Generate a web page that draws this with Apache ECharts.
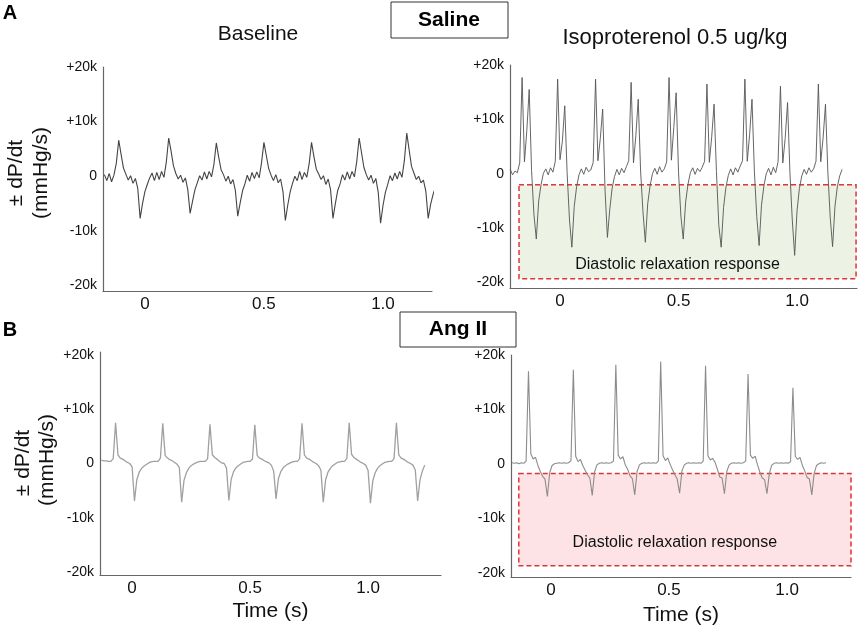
<!DOCTYPE html>
<html>
<head>
<meta charset="utf-8">
<script src="https://cdn.jsdelivr.net/npm/echarts@6.0.0/dist/echarts.min.js"></script>
<style>
  html, body { margin: 0; padding: 0; background: #fff; }
  #chart { width: 858px; height: 630px; }
</style>
</head>
<body>
<div id="chart"></div>
<script>
// ±dP/dt traces, values in k mmHg/s, one sample every 10 ms
const sampleStep = 0.01
const yTicks = [-20, -10, 0, 10, 20]
const timeTicks = [0, 0.5, 1.0]

// A - Saline, baseline
const salineBaselineStart = -0.17
const salineBaseline = [
  0.3, -0.8, 0.5, -1.0, 0.2, 2.4,
  6.6, 4.0, 1.5, 0.4, -0.7, 0.1, -1.3, -0.4, -2.2, -7.7, -5.0, -2.8, -1.5, -0.3, 0.6, -0.8, 0.7, -0.6, 0.9, -0.2, 2.6,
  7.0, 4.6, 1.9, 0.5, -0.5, 0.2, -1.1, -0.3, -2.4, -6.8, -4.6, -2.5, -1.2, 0.1, -0.7, 0.8, -0.5, 0.9, -0.1, 2.2,
  6.1, 3.5, 1.2, 0.3, -0.9, 0.0, -1.4, -0.6, -2.6, -7.3, -4.9, -2.7, -1.4, 0.2, -0.9, 0.7, -0.4, 0.8, -0.3, 2.5,
  6.2, 3.8, 1.4, 0.2, -0.8, 0.3, -1.2, -0.5, -2.8, -8.1, -5.3, -2.9, -1.3, 0.0, -0.8, 0.9, -0.6, 0.7, -0.2, 2.3,
  6.2, 3.6, 1.3, 0.4, -0.6, 0.1, -1.5, -0.5, -2.5, -7.7, -5.0, -2.6, -1.4, 0.3, -0.7, 0.8, -0.5, 0.9, -0.1, 2.7,
  7.0, 4.3, 1.6, 0.3, -0.7, 0.2, -1.3, -0.4, -2.9, -8.6, -5.4, -3.0, -1.5, 0.1, -0.8, 0.6, -0.5, 0.9, -0.2, 2.9,
  7.9, 4.8, 1.8, 0.6, -0.6, 0.0, -1.2, -0.7, -2.7, -7.7, -5.2, -3.4, -2.0, -0.8, 0.6
]

// A - Saline, isoproterenol 0.5 ug/kg
const salineIsoStart = -0.21
const salineIso = [
  0.8, -0.2, 0.5, 0.2, 2.0,
  17.7, 2.2, 8.0, 15.5, 0.6, -7.5, -12.0, -5.0, -2.0, 0.1, 0.9, -0.2, 1.1, 0.3, 2.3,
  17.4, 2.6, 6.0, 12.5, 0.2, -8.5, -13.5, -6.0, -2.4, -0.2, 0.9, -0.1, 1.2, 0.4, 0.7, 2.1,
  17.4, 2.4, 6.5, 11.9, -3.0, -11.7, -6.5, -2.6, -0.5, 0.8, -0.2, 1.0, 0.2, 1.3, 2.4,
  16.8, 2.0, 7.0, 13.7, 0.5, -7.0, -12.6, -5.5, -2.2, 0.0, 1.0, -0.1, 1.3, 0.3, 0.9, 2.2,
  17.7, 2.5, 8.5, 14.9, 0.3, -7.8, -12.0, -5.2, -1.9, 0.2, 1.1, -0.1, 1.0, 0.4, 1.2, 2.3,
  16.5, 2.1, 6.8, 12.8, 0.4, -9.5, -13.5, -6.2, -2.5, -0.3, 0.9, -0.2, 1.1, 0.3, 1.4, 2.4,
  17.4, 2.3, 7.2, 13.7, 0.5, -7.8, -13.2, -5.8, -2.3, 0.0, 1.0, -0.2, 1.2, 0.2, 2.2,
  16.1, 2.0, 6.5, 13.1, 0.2, -8.5, -15.0, -6.8, -2.7, -0.4, 0.8, -0.1, 1.1, 0.3, 0.9, 2.3,
  16.5, 2.2, 6.6, 12.8, 0.3, -8.0, -13.4, -6.0, -2.4, -0.4, 0.8
]

// B - Ang II, baseline
const angBaselineStart = -0.13
const angBaseline = [
  0.6, 0.5, 0.5, 0.4, 0.4, 0.9,
  7.5, 1.6, 1.0, 0.8, 0.5, 0.2, 0.0, -0.6, -6.9, -3.0, -1.6, -0.9, -0.5, -0.2, 0.1, 0.3, 0.4, 0.4, 0.4, 1.0,
  7.4, 1.5, 1.0, 0.7, 0.5, 0.2, -0.1, -0.7, -7.1, -3.1, -1.7, -0.9, -0.4, -0.1, 0.1, 0.3, 0.4, 0.4, 0.4, 0.9,
  7.2, 1.6, 1.1, 0.8, 0.4, 0.1, 0.0, -0.8, -6.8, -2.9, -1.5, -0.8, -0.4, -0.1, 0.2, 0.3, 0.4, 0.4, 0.8,
  7.1, 1.5, 1.0, 0.8, 0.5, 0.3, 0.1, -0.3, -1.4, -6.5, -2.8, -1.5, -0.8, -0.4, -0.1, 0.1, 0.3, 0.4, 0.4, 0.9,
  7.4, 1.6, 1.0, 0.8, 0.5, 0.2, 0.0, -0.4, -1.2, -7.1, -3.0, -1.6, -0.9, -0.4, -0.1, 0.2, 0.3, 0.4, 0.4, 0.9,
  7.5, 1.7, 1.1, 0.8, 0.5, 0.2, 0.0, -0.3, -1.3, -7.3, -3.2, -1.7, -0.9, -0.4, -0.1, 0.2, 0.3, 0.4, 0.4, 0.9,
  7.5, 1.6, 1.0, 0.8, 0.5, 0.2, 0.0, -0.3, -1.2, -6.9, -3.0, -1.4, -0.3
]

// B - Ang II, isoproterenol 0.5 ug/kg
const angIsoStart = -0.165
const angIso = [
  0.2, 0.1, 0.2, 0.0, 0.2, 0.1, 0.5,
  17.0, 1.8, 0.9, 1.2, -0.3, -1.4, -2.3, -2.8, -6.0, -1.6, -0.3, 0.0, 0.1, 0.2, 0.1, 0.2, 0.1, 0.2, 0.6,
  17.3, 1.4, 0.4, 0.8, -0.3, -1.2, -2.0, -2.6, -5.8, -1.5, -0.2, 0.1, 0.2, 0.1, 0.2, 0.1, 0.2, 0.5,
  18.2, 1.6, 0.9, 1.3, -0.2, -1.0, -2.2, -2.7, -5.7, -1.4, -0.2, 0.1, 0.2, 0.1, 0.2, 0.1, 0.2, 0.1, 0.5,
  18.8, 1.5, 0.6, 1.1, -0.1, -1.1, -2.0, -2.8, -5.4, -1.3, -0.2, 0.1, 0.2, 0.1, 0.2, 0.1, 0.2, 0.1, 0.5,
  18.0, 1.5, 0.7, 1.0, 0.3, -1.0, -2.4, -2.6, -5.5, -1.4, -0.2, 0.1, 0.2, 0.1, 0.2, 0.1, 0.2, 0.5,
  16.5, 1.6, 1.0, 1.4, -0.2, -1.5, -2.6, -2.9, -5.5, -1.8, -0.3, 0.1, 0.2, 0.1, 0.2, 0.1, 0.2, 0.1, 0.4,
  14.0, 1.4, 0.8, 1.2, -0.3, -1.3, -2.5, -2.8, -5.7, -1.7, -0.3, 0.0, 0.2, 0.1, 0.2
]

// dashed "Diastolic relaxation response" areas: [t from, t to, top, bottom]
const salineRelaxBox = [-0.173, 1.249, -2.0, -19.3]
const angRelaxBox = [-0.136, 1.271, -1.8, -18.75]
const relaxLabel = 'Diastolic relaxation response'

const font = 'Liberation Sans, Arial, Helvetica, sans-serif'

const toPoints = (start, values) =>
  values.map((v, i) => [+(start + i * sampleStep).toFixed(3), v])

const panels = [
  { grid: { left: 103, top: 67, width: 329, height: 224 }, x: [-0.176, 1.206], y: [-21, 20],
    data: toPoints(salineBaselineStart, salineBaseline), color: '#444', width: 1.1 },
  { grid: { left: 510, top: 65, width: 347, height: 223 }, x: [-0.211, 1.253], y: [-21, 20],
    data: toPoints(salineIsoStart, salineIso), color: '#555', width: 0.9,
    box: salineRelaxBox, boxFill: '#edf3e4', labelDist: 7 },
  { grid: { left: 100, top: 352, width: 341, height: 223 }, x: [-0.136, 1.309], y: [-20.5, 20.5],
    data: toPoints(angBaselineStart, angBaseline), color: '#a0a0a0', width: 1.3, timeName: 26 },
  { grid: { left: 511, top: 355, width: 340, height: 222 }, x: [-0.169, 1.271], y: [-20.8, 20],
    data: toPoints(angIsoStart, angIso), color: '#8c8c8c', width: 1.1,
    box: angRelaxBox, boxFill: '#fde3e5', labelDist: 16, timeName: 28 }
]

const myChart = echarts.init(document.getElementById('chart'), null, { renderer: 'canvas' })

const axisLine = { onZero: false, lineStyle: { color: '#666', width: 1.2 } }

const option = {
  animation: false,
  backgroundColor: '#fff',
  grid: panels.map(p => p.grid),
  xAxis: panels.map((p, i) => ({
    type: 'value',
    gridIndex: i,
    min: p.x[0],
    max: p.x[1],
    axisLine,
    axisTick: { show: false },
    splitLine: { show: false },
    axisLabel: {
      customValues: timeTicks,
      formatter: v => (v === 0 ? '0' : v.toFixed(1)),
      fontSize: 17,
      color: '#111',
      fontFamily: font,
      margin: 5
    },
    name: p.timeName ? 'Time (s)' : '',
    nameLocation: 'middle',
    nameGap: p.timeName || 0,
    nameTextStyle: { fontSize: 21, color: '#111', fontFamily: font }
  })),
  yAxis: panels.map((p, i) => ({
    type: 'value',
    gridIndex: i,
    min: p.y[0],
    max: p.y[1],
    axisLine,
    axisTick: { show: false },
    splitLine: { show: false },
    axisLabel: {
      customValues: yTicks,
      formatter: v => (v > 0 ? '+' + v + 'k' : v < 0 ? v + 'k' : '0'),
      fontSize: 14,
      color: '#111',
      fontFamily: font,
      margin: 6
    }
  })),
  series: panels.map((p, i) => {
    const s = {
      type: 'line',
      xAxisIndex: i,
      yAxisIndex: i,
      data: p.data,
      showSymbol: false,
      clip: false,
      silent: true,
      lineStyle: { color: p.color, width: p.width },
      z: 3
    }
    if (p.box) {
      s.markArea = {
        silent: true,
        itemStyle: {
          color: p.boxFill,
          borderColor: '#e0343b',
          borderWidth: 1.5,
          borderType: [5, 3]
        },
        label: {
          show: true,
          position: 'insideBottom',
          distance: p.labelDist,
          offset: [-10, 0],
          fontSize: 16,
          color: '#111',
          fontFamily: font
        },
        data: [[
          { name: relaxLabel, xAxis: p.box[0], yAxis: p.box[2] },
          { xAxis: p.box[1], yAxis: p.box[3] }
        ]]
      }
    }
    return s
  }),
  graphic: [
    { type: 'text', x: 10, y: 13, style: { text: 'A', font: 'bold 20px ' + font, fill: '#000', align: 'center', verticalAlign: 'middle' } },
    { type: 'text', x: 10, y: 330, style: { text: 'B', font: 'bold 20px ' + font, fill: '#000', align: 'center', verticalAlign: 'middle' } },
    { type: 'text', x: 258, y: 34, style: { text: 'Baseline', font: '21px ' + font, fill: '#111', align: 'center', verticalAlign: 'middle' } },
    { type: 'text', x: 675, y: 38, style: { text: 'Isoproterenol 0.5 ug/kg', font: '22px ' + font, fill: '#111', align: 'center', verticalAlign: 'middle' } },
    { type: 'rect', shape: { x: 391, y: 2, width: 117, height: 36 }, style: { fill: '#fff', stroke: '#333', lineWidth: 1 } },
    { type: 'text', x: 449, y: 20, style: { text: 'Saline', font: 'bold 21px ' + font, fill: '#000', align: 'center', verticalAlign: 'middle' } },
    { type: 'rect', shape: { x: 400, y: 312, width: 116, height: 35 }, style: { fill: '#fff', stroke: '#333', lineWidth: 1 } },
    { type: 'text', x: 458, y: 329, style: { text: 'Ang II', font: 'bold 21px ' + font, fill: '#000', align: 'center', verticalAlign: 'middle' } },
    // y axis titles
    { type: 'text', x: 16, y: 173, rotation: Math.PI / 2, style: { text: '± dP/dt', font: '21px ' + font, fill: '#111', align: 'center', verticalAlign: 'middle' } },
    { type: 'text', x: 41, y: 173, rotation: Math.PI / 2, style: { text: '(mmHg/s)', font: '21px ' + font, fill: '#111', align: 'center', verticalAlign: 'middle' } },
    { type: 'text', x: 23, y: 463, rotation: Math.PI / 2, style: { text: '± dP/dt', font: '21px ' + font, fill: '#111', align: 'center', verticalAlign: 'middle' } },
    { type: 'text', x: 47, y: 460, rotation: Math.PI / 2, style: { text: '(mmHg/s)', font: '21px ' + font, fill: '#111', align: 'center', verticalAlign: 'middle' } }
  ]
}

myChart.setOption(option)
</script>
</body>
</html>
